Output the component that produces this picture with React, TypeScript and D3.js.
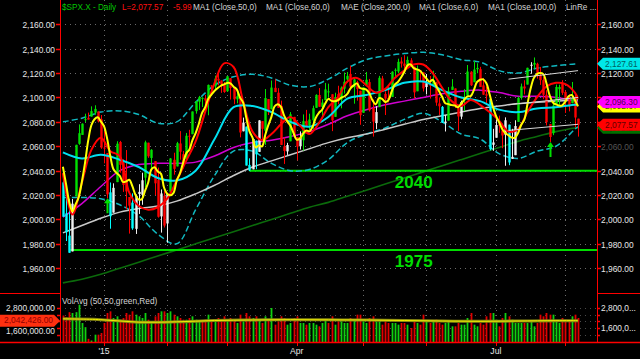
import React from "react";
import * as d3 from "d3";

// ---------- DATA ----------
const monthDays: [string, number[]][] = [
  ["2014-12", [12, 15, 16, 17, 18, 19, 22, 23, 24, 26, 29, 30, 31]],
  ["2015-01", [2, 5, 6, 7, 8, 9, 12, 13, 14, 15, 16, 20, 21, 22, 23, 26, 27, 28, 29, 30]],
  ["2015-02", [2, 3, 4, 5, 6, 9, 10, 11, 12, 13, 17, 18, 19, 20, 23, 24, 25, 26, 27]],
  ["2015-03", [2, 3, 4, 5, 6, 9, 10, 11, 12, 13, 16, 17, 18, 19, 20, 23, 24, 25, 26, 27, 30, 31]],
  ["2015-04", [1, 2, 6, 7, 8, 9, 10, 13, 14, 15, 16, 17, 20, 21, 22, 23, 24, 27, 28, 29, 30]],
  ["2015-05", [1, 4, 5, 6, 7, 8, 11, 12, 13, 14, 15, 18, 19, 20, 21, 22, 26, 27, 28, 29]],
  ["2015-06", [1, 2, 3, 4, 5, 8, 9, 10, 11, 12, 15, 16, 17, 18, 19, 22, 23, 24, 25, 26, 29, 30]],
  ["2015-07", [1, 2, 6, 7, 8, 9, 10, 13, 14, 15, 16, 17, 20, 21, 22, 23, 24, 27, 28, 29, 30, 31]],
  ["2015-08", [3, 4, 5, 6, 7]],
];
const axisMonthLabels: Record<string, string> = { "2015-01": "'15", "2015-04": "Apr", "2015-07": "Jul" };

const opens = [
  2030.4, 2005.0, 1986.7, 1973.8, 2018.9, 2062.0, 2069.3, 2081.5, 2083.3, 2084.3, 2087.6, 2088.5, 2082.1,
  2058.9, 2054.4, 2022.2, 2005.6, 2030.6, 2063.5, 2046.1, 2031.6, 2018.4, 2013.8, 1992.3, 2020.8, 2020.2, 2034.3, 2062.9, 2050.4, 2047.9, 2032.3, 2002.5, 2019.4,
  1996.7, 2022.7, 2048.9, 2043.5, 2062.3, 2053.5, 2049.4, 2068.6, 2069.9, 2088.8, 2096.5, 2099.2, 2099.3, 2097.7, 2109.8, 2109.1, 2115.3, 2113.9, 2110.9,
  2105.2, 2115.8, 2107.7, 2098.5, 2100.9, 2072.3, 2076.1, 2044.7, 2041.1, 2064.6, 2055.4, 2080.6, 2072.8, 2098.7, 2090.3, 2107.9, 2103.9, 2093.1, 2059.9, 2055.8, 2064.1, 2084.1,
  2067.6, 2060.0, 2064.9, 2080.8, 2076.9, 2081.3, 2091.5, 2102.0, 2092.3, 2097.8, 2105.0, 2102.6, 2084.1, 2102.8, 2098.3, 2107.2, 2114.8, 2119.3, 2108.4, 2112.5, 2105.5,
  2087.4, 2110.2, 2112.6, 2091.3, 2079.0, 2092.1, 2115.6, 2102.9, 2099.6, 2100.4, 2122.1, 2121.3, 2129.5, 2127.8, 2125.6, 2130.4, 2125.3, 2105.1, 2122.3, 2120.7,
  2108.6, 2110.4, 2110.6, 2112.4, 2095.1, 2092.3, 2079.1, 2081.0, 2106.2, 2107.4, 2091.3, 2084.3, 2097.4, 2101.6, 2121.1, 2112.5, 2123.2, 2123.2, 2109.9, 2102.6, 2098.6, 2061.2,
  2067.0, 2078.0, 2073.0, 2069.5, 2077.7, 2049.7, 2052.7, 2080.0, 2099.7, 2109.0, 2110.6, 2126.8, 2126.9, 2127.6, 2118.2, 2114.2, 2102.2, 2078.2, 2070.8, 2094.1, 2106.8, 2111.6,
  2104.5, 2097.7, 2095.3, 2100.1, 2082.6,
];
const highs = [
  2032.2, 2018.7, 2016.9, 2016.8, 2061.2, 2077.9, 2078.8, 2086.7, 2087.6, 2092.7, 2093.6, 2088.5, 2085.6,
  2072.4, 2054.4, 2030.3, 2029.6, 2064.1, 2064.4, 2049.3, 2056.9, 2018.4, 2021.4, 2020.5, 2028.9, 2038.3, 2064.6, 2062.9, 2057.6, 2047.9, 2042.5, 2024.6, 2023.3,
  2021.7, 2050.3, 2054.7, 2063.6, 2072.4, 2056.2, 2070.9, 2073.5, 2088.5, 2097.0, 2101.3, 2100.2, 2102.1, 2110.6, 2110.1, 2117.9, 2119.6, 2113.9, 2112.7,
  2117.5, 2115.8, 2107.7, 2104.3, 2100.9, 2083.5, 2076.1, 2050.1, 2066.4, 2064.6, 2081.4, 2080.6, 2106.9, 2098.7, 2113.9, 2114.9, 2107.6, 2097.4, 2067.2, 2062.8, 2088.0, 2084.1,
  2067.6, 2072.2, 2086.1, 2089.8, 2086.7, 2093.3, 2102.6, 2107.7, 2098.6, 2111.9, 2111.3, 2102.6, 2103.9, 2109.6, 2109.0, 2120.5, 2120.9, 2125.9, 2116.0, 2113.7, 2105.5,
  2108.4, 2120.9, 2115.2, 2098.4, 2092.9, 2117.7, 2117.7, 2105.1, 2110.2, 2121.5, 2123.9, 2131.8, 2133.0, 2134.7, 2133.6, 2132.2, 2125.3, 2126.2, 2122.3, 2120.7,
  2119.2, 2117.6, 2121.9, 2112.9, 2100.0, 2093.0, 2085.6, 2108.5, 2115.0, 2107.4, 2091.3, 2097.4, 2106.8, 2126.6, 2121.6, 2129.9, 2128.0, 2125.1, 2116.0, 2108.9, 2098.6, 2074.3,
  2082.8, 2085.1, 2078.6, 2083.7, 2077.7, 2074.3, 2081.3, 2100.7, 2111.4, 2114.1, 2124.4, 2128.9, 2132.8, 2128.5, 2125.0, 2116.9, 2106.0, 2078.2, 2095.6, 2110.6, 2110.5, 2114.2,
  2105.7, 2102.5, 2112.7, 2103.3, 2082.6,
];
const lows = [
  2002.3, 1982.3, 1972.6, 1973.8, 2018.9, 2061.2, 2069.3, 2079.8, 2081.9, 2084.3, 2085.8, 2079.5, 2057.9,
  2046.0, 2017.3, 1992.4, 2005.6, 2030.6, 2038.3, 2022.6, 2008.3, 1988.4, 1991.5, 1988.1, 2004.5, 2012.0, 2026.4, 2050.5, 2040.0, 2019.9, 2001.5, 1989.2, 1993.4,
  1980.9, 2022.7, 2036.7, 2043.5, 2049.0, 2041.9, 2048.6, 2057.9, 2069.9, 2086.7, 2089.8, 2092.2, 2090.8, 2085.4, 2102.5, 2105.9, 2109.9, 2103.8, 2103.8,
  2104.5, 2098.3, 2094.5, 2095.2, 2067.3, 2072.2, 2044.2, 2039.7, 2041.1, 2041.2, 2055.4, 2065.1, 2061.2, 2085.6, 2090.3, 2104.4, 2091.5, 2061.1, 2045.5, 2052.9, 2064.1, 2067.0,
  2048.4, 2057.3, 2056.5, 2076.1, 2073.3, 2074.3, 2091.5, 2092.3, 2083.2, 2097.8, 2100.0, 2072.4, 2084.1, 2094.4, 2091.1, 2103.2, 2112.1, 2107.0, 2094.9, 2097.4, 2077.6,
  2087.4, 2110.2, 2088.5, 2067.9, 2074.0, 2092.1, 2104.6, 2085.6, 2096.0, 2100.4, 2116.8, 2120.0, 2124.5, 2122.6, 2124.5, 2126.1, 2099.2, 2105.1, 2112.9, 2104.9,
  2102.5, 2099.1, 2109.6, 2093.2, 2085.7, 2079.1, 2072.1, 2081.0, 2106.2, 2091.3, 2072.5, 2082.1, 2088.9, 2101.6, 2109.4, 2112.5, 2119.9, 2108.6, 2102.0, 2095.4, 2056.6, 2056.3,
  2067.0, 2071.0, 2058.4, 2044.0, 2044.5, 2049.7, 2052.7, 2080.0, 2098.2, 2102.5, 2110.6, 2119.4, 2123.7, 2115.4, 2110.3, 2098.6, 2077.1, 2063.5, 2069.1, 2094.1, 2094.1, 2102.1,
  2087.3, 2088.6, 2095.3, 2075.5, 2067.9,
];
const closes = [
  2002.3, 1989.6, 1972.7, 2012.9, 2061.2, 2070.7, 2078.5, 2082.2, 2081.9, 2088.8, 2090.6, 2080.4, 2058.9,
  2058.2, 2020.6, 2002.6, 2025.9, 2062.1, 2044.8, 2028.3, 2023.0, 2011.3, 1992.7, 2019.4, 2022.6, 2032.1, 2063.2, 2051.8, 2057.1, 2029.6, 2002.2, 2021.3, 1995.0,
  2020.9, 2050.0, 2041.5, 2062.5, 2055.5, 2046.7, 2068.6, 2068.5, 2088.5, 2097.0, 2100.3, 2099.7, 2097.5, 2110.3, 2109.7, 2115.5, 2113.9, 2110.7, 2104.5,
  2117.4, 2107.8, 2098.5, 2101.0, 2071.3, 2079.4, 2044.2, 2040.2, 2065.9, 2053.4, 2081.2, 2074.3, 2099.5, 2089.3, 2108.1, 2104.4, 2091.5, 2061.1, 2056.2, 2061.0, 2086.2, 2067.9,
  2059.7, 2067.0, 2080.6, 2076.3, 2081.9, 2091.2, 2102.1, 2092.4, 2095.8, 2106.6, 2105.0, 2081.2, 2100.4, 2097.3, 2108.0, 2112.9, 2117.7, 2108.9, 2114.8, 2106.9, 2085.5,
  2108.3, 2114.5, 2089.5, 2080.2, 2088.0, 2116.1, 2105.3, 2099.1, 2098.5, 2121.1, 2122.7, 2129.2, 2127.8, 2125.9, 2130.8, 2126.1, 2104.2, 2123.5, 2120.8, 2107.4,
  2111.7, 2109.6, 2114.1, 2095.8, 2092.8, 2079.3, 2080.2, 2105.2, 2108.9, 2094.1, 2084.4, 2096.3, 2100.4, 2121.2, 2110.0, 2122.9, 2124.2, 2108.6, 2102.3, 2101.5, 2057.6, 2063.1,
  2077.4, 2076.8, 2068.8, 2081.3, 2046.7, 2051.3, 2076.6, 2099.6, 2109.0, 2107.4, 2124.3, 2126.6, 2128.3, 2119.2, 2114.2, 2102.2, 2079.7, 2067.6, 2093.3, 2108.6, 2108.6, 2103.8,
  2098.0, 2093.3, 2099.8, 2083.56, 2077.57,
];
const priorCloses = [2075.37, 2060.31, 2059.82, 2026.14, 2035.33];

// volume, millions
const volumes = [
  2.35, 2.25, 2.55, 2.5, 2.55, 3.0, 1.9, 1.65, 0.95, 0.85, 1.2, 1.2, 1.3,
  1.9, 2.5, 2.6, 2.2, 2.3, 2.1, 2.2, 2.5, 2.4, 2.6, 2.4, 2.3, 2.2, 2.5, 2.1, 1.9, 2.3, 2.5, 2.6, 2.6,
  2.5, 2.6, 2.4, 2.3, 2.2, 2.1, 2.1, 2.2, 2.3, 2.1, 2.0, 2.0, 2.1, 2.4, 2.0, 2.1, 2.2, 2.1, 2.3,
  2.1, 2.2, 2.1, 1.9, 2.4, 2.0, 2.5, 2.3, 2.2, 2.3, 2.1, 1.9, 2.3, 2.1, 2.8, 1.8, 2.0, 2.3, 2.2, 1.8, 1.9, 2.2,
  2.3, 1.9, 1.9, 1.8, 1.9, 1.9, 1.8, 1.7, 1.9, 2.1, 1.9, 2.3, 1.8, 2.0, 2.0, 1.9, 1.9, 2.2, 2.1, 2.4, 2.4,
  2.0, 1.9, 2.2, 2.3, 2.0, 2.0, 1.8, 2.1, 1.9, 1.9, 1.9, 1.8, 1.9, 1.9, 1.8, 1.6, 2.0, 1.9, 1.8, 2.4,
  2.0, 1.9, 2.0, 2.1, 1.9, 1.8, 1.9, 2.0, 1.7, 1.7, 1.9, 1.8, 1.8, 2.2, 2.5, 1.8, 1.7, 1.9, 1.8, 2.3, 2.5, 2.5,
  2.1, 1.7, 2.2, 2.5, 2.3, 2.1, 1.9, 1.9, 1.9, 1.9, 1.9, 2.0, 1.7, 1.9, 2.4, 2.3, 2.5, 2.4, 2.4, 2.0, 1.9, 2.2,
  2.1, 2.0, 2.3, 2.4, 2.2,
];

// smooth indicator lines at these bar indices
const slowIdx = [0, 6, 12, 18, 24, 30, 36, 42, 48, 54, 60, 66, 72, 78, 84, 90, 96, 102, 108, 114, 120, 126, 132, 138, 144, 150, 156, 162, 163];
const ma50 = [2002, 2013, 2027, 2040, 2045, 2046, 2046, 2047, 2052, 2059, 2063, 2065, 2068, 2072, 2078, 2085, 2090, 2094, 2097, 2100, 2103, 2105, 2106, 2104, 2101, 2101, 2100, 2097, 2096.3];
const ma100 = [1989, 1995, 2001, 2006, 2009, 2011, 2015, 2021, 2028, 2036, 2043, 2048, 2053, 2058, 2063, 2067, 2070, 2074, 2078, 2082, 2085, 2088, 2091, 2093, 2095, 2096, 2097, 2098, 2098];
const ma200 = [1948, 1951, 1955, 1960, 1965, 1970, 1975, 1980, 1985, 1990, 1995, 2000, 2005, 2010, 2014, 2019, 2024, 2029, 2034, 2039, 2044, 2049, 2054, 2059, 2064, 2068, 2072, 2075, 2075.24];
const ma20 = [2055, 2050, 2053, 2049, 2043, 2034, 2032, 2040, 2066, 2092, 2093, 2088, 2080, 2076, 2084, 2099, 2102, 2106, 2112, 2113, 2106, 2100, 2097, 2090, 2088, 2091, 2092, 2094, 2094];
const bandUpper = [2080, 2083, 2088, 2089, 2086, 2079, 2080, 2096, 2110, 2117, 2119, 2116, 2110, 2109, 2115, 2124, 2131, 2134, 2136, 2137, 2135, 2131, 2129, 2122, 2120, 2124, 2126, 2127.5, 2127.61];
const bandLower = [2018, 2018, 2017, 2012, 2003, 1988, 1980, 2008, 2036, 2056, 2056, 2046, 2040, 2041, 2049, 2063, 2070, 2075, 2082, 2087, 2080, 2070, 2066, 2054, 2050, 2056, 2060, 2074, 2076];

const fastIdx = [0, 3, 6, 9, 12, 15, 18, 21, 24, 27, 30, 33, 36, 39, 42, 45, 48, 51, 54, 57, 60, 63, 66, 69, 72, 75, 78, 81, 84, 87, 90, 93, 96, 99, 102, 105, 108, 111, 114, 117, 120, 123, 126, 129, 132, 135, 138, 141, 144, 147, 150, 153, 156, 159, 162, 163];
const redLine = [2038, 2004, 2030, 2057, 2067, 2056, 2052, 2022, 2011, 2008, 2010, 2017, 2032, 2048, 2064, 2088, 2112, 2128, 2125, 2097, 2072, 2065, 2070, 2078, 2084, 2077, 2070, 2079, 2092, 2100, 2113, 2116, 2110, 2104, 2107, 2116, 2122, 2127, 2127, 2120, 2108, 2097, 2093, 2098, 2094, 2088, 2081, 2072, 2074, 2088, 2100, 2109, 2112, 2111, 2104, 2099];

const volAvgIdx = [0, 12, 24, 36, 48, 60, 72, 84, 96, 108, 120, 132, 144, 156, 163];
const volAvg = [2.15, 2.1, 1.95, 1.97, 2.05, 2.08, 2.1, 2.09, 2.08, 2.05, 2.02, 2.0, 2.02, 2.04, 2.042426];

const linRegIdx = [141, 163];
const linRegUpper = [2115, 2122];
const linRegMid = [2094, 2100];
const linRegLower = [2073, 2078];

const supportLevels = [2040, 1975];
const supportStart = [59, 2];
const arrowBars = [14, 154];

const priceTicks = [1960, 1980, 2000, 2020, 2040, 2060, 2080, 2100, 2120, 2140, 2160];
const volTicks = [2.8, 1.6];
const volMinorTicks = [2.8, 2.4, 2.0, 1.6, 1.2];

const titleParts = [
  { t: "$SPX.X - Daily", c: "#00c800", x: 62 },
  { t: "L=2,077.57", c: "#ff1010", x: 122 },
  { t: "-5.99", c: "#ff1010", x: 173 },
  { t: "MA1 (Close,50,0)", c: "#d4d4d4", x: 193 },
  { t: "MA1 (Close,60,0)", c: "#d4d4d4", x: 266 },
  { t: "MAE (Close,200,0)", c: "#d4d4d4", x: 341 },
  { t: "MA1 (Close,6,0)", c: "#d4d4d4", x: 419 },
  { t: "MA1 (Close,100,0)", c: "#d4d4d4", x: 488 },
  { t: "LinRe ...", c: "#d4d4d4", x: 566 },
];

// ---------- LAYOUT ----------
const L = 60, R = 597, PRICE_BOT = 293, VOL_BOT = 342;
const FONT = "'Liberation Sans', Arial, sans-serif";

export default function App() {
  const n = closes.length;
  const monthStarts: { key: string; idx: number }[] = [];
  let cnt = 0;
  monthDays.forEach(([key, days]) => {
    monthStarts.push({ key, idx: cnt });
    cnt += days.length;
  });

  const x = d3.scaleLinear().domain([-0.92, 169]).range([L, R]);
  const y = d3.scaleLinear().domain([1939.7, 2179.9]).range([PRICE_BOT, 0]);
  const yv = d3.scaleLinear().domain([0.76, 3.7]).range([VOL_BOT, PRICE_BOT]);

  const allCloses = [...priorCloses, ...closes];
  const ma6 = closes.map((_, i) => d3.mean(allCloses.slice(i, i + 6)) as number);

  const ma20At = d3.scaleLinear().domain(slowIdx).range(ma20);
  const lowerAt = d3.scaleLinear().domain(slowIdx).range(bandLower);

  const curve = d3.curveCatmullRom.alpha(0.5);
  const sampled = (idx: number[], vals: number[], ys = y) =>
    d3.line<number>().x((_, k) => x(idx[k])).y((v) => ys(v)).curve(curve)(vals) || "";

  const ma6Path = d3.line<number>().x((_, i) => x(i)).y((v) => y(v)).curve(curve)(ma6) || "";

  const fmt = d3.format(",.2f");

  const candleColor = (i: number) => {
    const o = opens[i], c = closes[i];
    const prev = i > 0 ? closes[i - 1] : priorCloses[priorCloses.length - 1];
    if (c >= o) return c > ma20At(i) ? "#00e000" : "#f0f0f0";
    if (c < lowerAt(i)) return "#00ffff";
    return c < prev ? "#ff0000" : "#f0f0f0";
  };

  const boxRight = (yc: number) =>
    `M${R},${yc} L${R + 6},${yc - 6} L640,${yc - 6} L640,${yc + 6} L${R + 6},${yc + 6} Z`;

  const arrowPath = (cx: number, top: number) =>
    `M${cx},${top} L${cx + 3.5},${top + 5} L${cx + 1},${top + 5} L${cx + 1},${top + 15} L${cx - 1},${top + 15} L${cx - 1},${top + 5} L${cx - 3.5},${top + 5} Z`;

  const lastClose = closes[n - 1];
  const rightBoxes = [
    { v: ma200[ma200.length - 1], fill: "#007000", text: "#003000" },
    { v: lastClose, fill: "#ff0000", text: "#600000" },
    { v: ma6[n - 1], fill: "#ffff00", text: "#505000" },
    { v: ma50[ma50.length - 1], fill: "#ff00ff", text: "#500050" },
    { v: bandUpper[bandUpper.length - 1], fill: "#00e8e8", text: "#006060" },
  ];
  const hiddenRight = (p: number) => rightBoxes.some((b) => Math.abs(y(b.v) - y(p)) < 8);

  const lastVolAvg = volAvg[volAvg.length - 1];
  const yBox = yv(lastVolAvg);

  return (
    <svg
      width={640}
      height={359}
      style={{ position: "absolute", left: 0, top: 0, display: "block", background: "#000" }}
      fontFamily={FONT}
    >
      <rect x={0} y={0} width={640} height={359} fill="#000" />
      <defs>
        <clipPath id="pricePane">
          <rect x={L + 1} y={0} width={R - L - 1} height={PRICE_BOT} />
        </clipPath>
        <clipPath id="volPane">
          <rect x={L + 1} y={PRICE_BOT} width={R - L - 1} height={VOL_BOT - PRICE_BOT} />
        </clipPath>
      </defs>

      {/* grid */}
      {priceTicks.map((p) => (
        <line key={"hg" + p} x1={L} x2={R} y1={Math.round(y(p)) + 0.5} y2={Math.round(y(p)) + 0.5} stroke="#6a6a6a" strokeDasharray="1,4" />
      ))}
      {volMinorTicks.map((v) => (
        <line key={"vg" + v} x1={L} x2={R} y1={Math.round(yv(v)) + 0.5} y2={Math.round(yv(v)) + 0.5} stroke="#4a4a4a" strokeDasharray="1,4" />
      ))}
      {monthStarts.slice(1).map((m) => (
        <line key={"mg" + m.key} x1={Math.round(x(m.idx)) + 0.5} x2={Math.round(x(m.idx)) + 0.5} y1={0} y2={VOL_BOT} stroke="#6a6a6a" strokeDasharray="1,4" />
      ))}

      {/* price pane */}
      <g clipPath="url(#pricePane)">
        <path d={sampled(slowIdx, ma200)} fill="none" stroke="#0b6a0b" strokeWidth={1.6} />
        {supportLevels.map((lv, k) => (
          <line key={"sl" + lv} x1={x(supportStart[k])} x2={R} y1={y(lv)} y2={y(lv)} stroke="#00dd00" strokeWidth={2} />
        ))}
        <path d={sampled(slowIdx, bandUpper)} fill="none" stroke="#10b8c0" strokeWidth={1.5} strokeDasharray="6,3" />
        <path d={sampled(slowIdx, bandLower)} fill="none" stroke="#10b8c0" strokeWidth={1.5} strokeDasharray="6,3" />
        <path d={sampled(slowIdx, ma100)} fill="none" stroke="#c8c8c8" strokeWidth={1.5} />
        <path d={sampled(slowIdx, ma50)} fill="none" stroke="#d000d0" strokeWidth={1.5} />

        {closes.map((c, i) => {
          const col = candleColor(i);
          const cx = Math.round(x(i)) + 0.5;
          const top = y(Math.max(opens[i], c));
          const bot = y(Math.min(opens[i], c));
          return (
            <g key={"c" + i}>
              <line x1={cx} x2={cx} y1={y(highs[i])} y2={y(lows[i])} stroke={col} strokeWidth={1} />
              <rect x={cx - 1.2} y={top} width={2.4} height={Math.max(1, bot - top)} fill={col} />
            </g>
          );
        })}

        <path d={sampled(slowIdx, ma20)} fill="none" stroke="#00e0f0" strokeWidth={2} />
        <path d={sampled(fastIdx, redLine)} fill="none" stroke="#ff0000" strokeWidth={2} />
        <path d={ma6Path} fill="none" stroke="#ffff00" strokeWidth={2} />

        {[linRegUpper, linRegMid, linRegLower].map((arr, k) => (
          <line key={"lr" + k} x1={x(linRegIdx[0])} x2={x(linRegIdx[1])} y1={y(arr[0])} y2={y(arr[1])} stroke="#d8d8d8" strokeWidth={1} />
        ))}

        {arrowBars.map((b) => (
          <path key={"ar" + b} d={arrowPath(Math.round(x(b)) + 0.5, y(lows[b]))} fill="#00e000" />
        ))}

        {supportLevels.map((lv) => (
          <text key={"st" + lv} x={(x(supportStart[0]) + x(n - 1)) / 2} y={y(lv) + 17} fill="#00dd00" fontSize={17} fontWeight="bold" textAnchor="middle">
            {String(lv)}
          </text>
        ))}
      </g>

      {/* volume pane */}
      <g clipPath="url(#volPane)">
        {volumes.map((v, i) => {
          const prev = i > 0 ? closes[i - 1] : priorCloses[priorCloses.length - 1];
          const up = closes[i] >= prev;
          return (
            <rect key={"v" + i} x={Math.round(x(i)) - 0.4} y={yv(v)} width={1.8} height={VOL_BOT - yv(v)} fill={up ? "#10d010" : "#e00000"} />
          );
        })}
        <path d={sampled(volAvgIdx, volAvg, yv)} fill="none" stroke="#8a8a10" strokeWidth={3} />
        <path d={sampled(volAvgIdx, volAvg, yv)} fill="none" stroke="#f0f000" strokeWidth={1} />
      </g>
      <text x={62} y={304} fill="#d4d4d4" fontSize={8.3}>VolAvg (50,50,green,Red)</text>

      {/* axes frame */}
      <line x1={L + 0.5} x2={L + 0.5} y1={0} y2={VOL_BOT} stroke="#ff0000" strokeWidth={1} />
      <line x1={R + 0.5} x2={R + 0.5} y1={0} y2={VOL_BOT} stroke="#ff0000" strokeWidth={1} />
      <line x1={0} x2={L} y1={PRICE_BOT + 0.5} y2={PRICE_BOT + 0.5} stroke="#ff0000" />
      <line x1={R} x2={640} y1={PRICE_BOT + 0.5} y2={PRICE_BOT + 0.5} stroke="#ff0000" />
      <line x1={0} x2={640} y1={VOL_BOT + 0.5} y2={VOL_BOT + 0.5} stroke="#ff0000" strokeWidth={1.5} />

      {/* price axis labels */}
      {priceTicks.map((p) => {
        const yy = Math.round(y(p)) + 0.5;
        return (
          <g key={"pt" + p}>
            <line x1={L - 4} x2={L} y1={yy} y2={yy} stroke="#ff0000" strokeWidth={1.5} />
            <line x1={R} x2={R + 4} y1={yy} y2={yy} stroke="#ff0000" strokeWidth={1.5} />
            <text x={L - 5} y={yy + 3} fill="#e6e6e6" fontSize={8.4} textAnchor="end">{fmt(p)}</text>
            {!hiddenRight(p) && (
              <text x={R + 4} y={yy + 3} fill={p === 2060 ? "#555555" : "#e6e6e6"} fontSize={8.4}>{fmt(p)}</text>
            )}
          </g>
        );
      })}

      {/* volume axis */}
      {volMinorTicks.map((v) => (
        <g key={"vt" + v}>
          <line x1={L - 3} x2={L} y1={Math.round(yv(v)) + 0.5} y2={Math.round(yv(v)) + 0.5} stroke="#ff0000" strokeWidth={1.5} />
          <line x1={R} x2={R + 3} y1={Math.round(yv(v)) + 0.5} y2={Math.round(yv(v)) + 0.5} stroke="#ff0000" strokeWidth={1.5} />
        </g>
      ))}
      <text x={L - 5} y={yv(2.8) + 3} fill="#e6e6e6" fontSize={8.4} textAnchor="end">{fmt(2.8e6)}</text>
      <text x={L - 5} y={yv(1.6) + 5.5} fill="#e6e6e6" fontSize={8.4} textAnchor="end">{fmt(1.6e6)}</text>
      {volTicks.map((v) => (
        <text key={"vr" + v} x={R + 4} y={yv(v) + 3} fill="#e6e6e6" fontSize={8.4}>{fmt(v * 1e6).slice(0, 7) + "..."}</text>
      ))}
      <path
        d={`M0,${yBox - 6} L${L - 6},${yBox - 6} L${L},${yBox} L${L - 6},${yBox + 6} L0,${yBox + 6} Z`}
        fill="#ff3010"
      />
      <text x={L - 7} y={yBox + 2.5} fill="#900000" fontSize={8.4} textAnchor="end">{fmt(lastVolAvg * 1e6)}</text>

      {/* date axis */}
      {monthStarts.slice(1).map((m) => (
        <line key={"dt" + m.key} x1={Math.round(x(m.idx)) + 0.5} x2={Math.round(x(m.idx)) + 0.5} y1={VOL_BOT} y2={VOL_BOT + 4} stroke="#ff0000" />
      ))}
      {monthStarts.filter((m) => axisMonthLabels[m.key]).map((m) => (
        <text key={"dl" + m.key} x={x(m.idx)} y={354} fill="#e6e6e6" fontSize={8.6} textAnchor="middle">{axisMonthLabels[m.key]}</text>
      ))}

      {/* right value boxes */}
      {rightBoxes.map((b, k) => (
        <g key={"rb" + k}>
          <path d={boxRight(y(b.v))} fill={b.fill} />
          <text x={R + 8} y={y(b.v) + 3} fill={b.text} fontSize={8.4}>{fmt(b.v)}</text>
        </g>
      ))}

      {/* title */}
      {titleParts.map((p) => (
        <text key={p.t} x={p.x} y={10} fill={p.c} fontSize={8.2}>{p.t}</text>
      ))}
    </svg>
  );
}
